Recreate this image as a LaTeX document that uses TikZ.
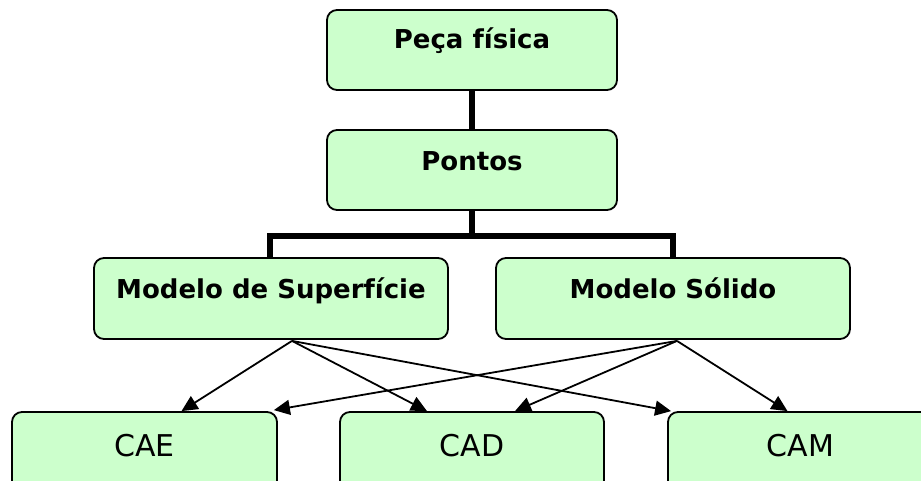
\documentclass[tikz,border=0pt]{standalone}
\usepackage{fontspec}
\setmainfont{DejaVu Sans}
\usetikzlibrary{arrows.meta,calc}
\definecolor{boxgreen}{HTML}{CCFFCC}
\tikzset{
  box/.style={draw=black, line width=1.8pt, fill=boxgreen, rounded corners=10pt, inner sep=0pt},
  toptext/.style={font=\fontsize{26}{30}\selectfont\bfseries, anchor=base, inner sep=0pt},
  bottext/.style={font=\fontsize{30}{34}\selectfont, anchor=base, inner sep=0pt},
  bar/.style={line width=6pt},
  arr/.style={line width=1.8pt, -{Triangle[length=16pt,width=15pt]}},
}
\begin{document}
\begin{tikzpicture}[x=1pt,y=-1pt]
\clip (0,0) rectangle (921,480);
\fill[white] (0,0) rectangle (921,480);
% boxes
\node[box, minimum width=290pt, minimum height=80pt] (peca) at (472,50) {};
\node[box, minimum width=290pt, minimum height=80pt] (pontos) at (472,170) {};
\node[box, minimum width=354pt, minimum height=81pt] (sup) at (271,298.5) {};
\node[box, minimum width=354pt, minimum height=81pt] (sol) at (673,298.5) {};
\node[box, minimum width=265pt, minimum height=90pt] (cae) at (144.5,457) {};
\node[box, minimum width=264pt, minimum height=90pt] (cad) at (472,457) {};
\node[box, minimum width=265pt, minimum height=90pt] (cam) at (800.5,457) {};
% texts
\node[toptext] (tpeca) at ($(peca.center)+(0,-2)$) {Peça física};
\node[toptext] (tpontos) at (pontos.center) {Pontos};
\node[toptext] (tsup) at (sup.center) {Modelo de Superfície};
\node[toptext] (tsol) at (sol.center) {Modelo Sólido};
\node[bottext] (tcae) at ($(cae.north)+(0,45)$) {CAE};
\node[bottext] (tcad) at ($(cad.north)+(0,45)$) {CAD};
\node[bottext] (tcam) at ($(cam.north)+(0,45)$) {CAM};
% thick tree connectors
\draw[bar] (peca.south) -- (pontos.north);
\draw[bar] (pontos.south) -- ++(0,25) coordinate (j);
\draw[bar] ([xshift=-1pt]sup.north) |- (j) -| (sol.north);
% arrow sources and targets
\coordinate (s1) at ($(sup.south)+(21,1)$);
\coordinate (s2) at ($(sol.south)+(4,1)$);
\coordinate (t1) at ($(cae.north)+(37,0)$);
\coordinate (t2) at ($(cae.north east)+(-4,-1)$);
\coordinate (t3) at ($(cad.north)+(-45,0)$);
\coordinate (t4) at ($(cad.north)+(43,0)$);
\coordinate (t5) at ($(cam.north west)+(4,0)$);
\coordinate (t6) at ($(cam.north)+(-13,0)$);
\draw[arr] (s1) -- (t1);
\draw[arr] (s1) -- (t3);
\draw[arr] (s1) -- (t5);
\draw[arr] (s2) -- (t2);
\draw[arr] (s2) -- (t4);
\draw[arr] (s2) -- (t6);
\end{tikzpicture}
\end{document}
